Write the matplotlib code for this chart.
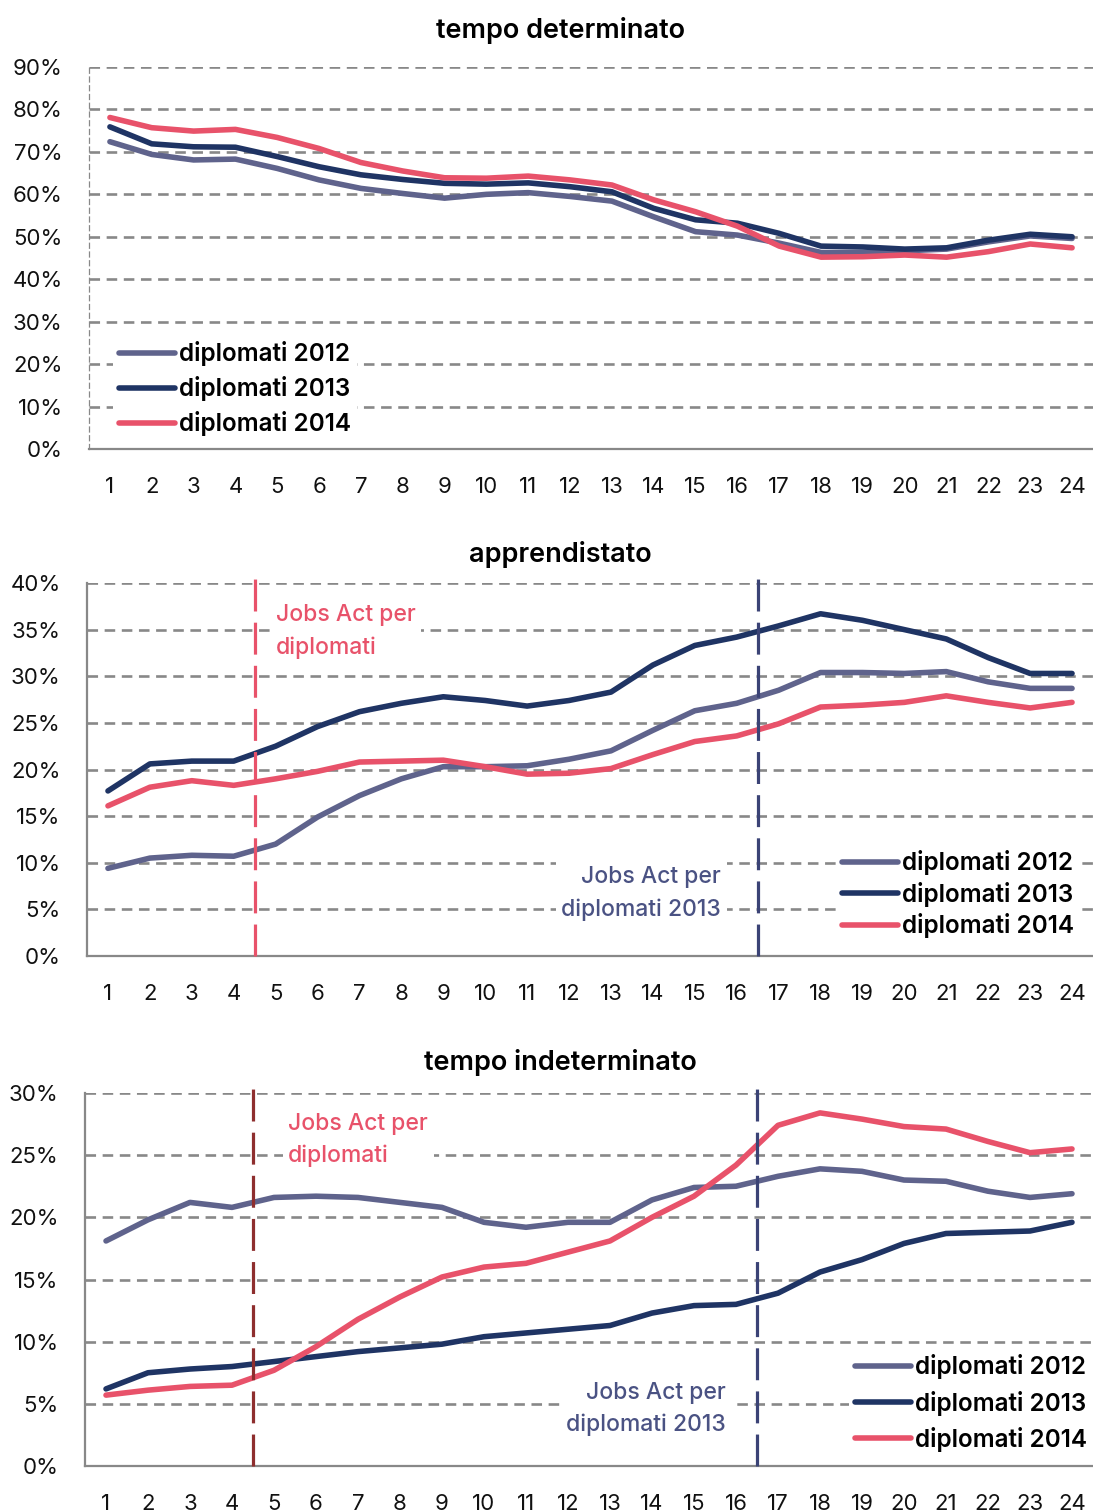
import numpy as np
import matplotlib
matplotlib.use("Agg")
from matplotlib import pyplot as plt
from matplotlib.ticker import FuncFormatter

plt.rcParams['font.family'] = ['Inter', 'DejaVu Sans']

# mesi dal diploma
mesi = list(range(1, 25))
serie = ['diplomati 2012', 'diplomati 2013', 'diplomati 2014']
colori = ['#5F638C', '#1F3464', '#E8526A']

det_2012 = [72.4, 69.4, 68.1, 68.3, 66.1, 63.4, 61.4, 60.2, 59.1, 60.0, 60.4, 59.5,
            58.4, 54.7, 51.2, 50.4, 48.5, 46.3, 46.3, 46.7, 47.1, 48.8, 50.2, 49.6]
det_2013 = [75.9, 71.9, 71.2, 71.1, 68.9, 66.5, 64.6, 63.5, 62.6, 62.4, 62.7, 61.8,
            60.6, 56.7, 54.0, 53.2, 50.8, 47.8, 47.6, 47.1, 47.4, 49.2, 50.6, 50.0]
det_2014 = [78.1, 75.7, 74.9, 75.3, 73.4, 70.8, 67.5, 65.5, 63.9, 63.8, 64.3, 63.4,
            62.2, 58.7, 55.9, 52.5, 47.8, 45.2, 45.3, 45.7, 45.2, 46.5, 48.3, 47.4]

app_2012 = [9.4, 10.5, 10.8, 10.7, 12.0, 14.9, 17.2, 19.0, 20.3, 20.3, 20.4, 21.1,
            22.0, 24.2, 26.3, 27.1, 28.5, 30.4, 30.4, 30.3, 30.5, 29.4, 28.7, 28.7]
app_2013 = [17.7, 20.6, 20.9, 20.9, 22.5, 24.6, 26.2, 27.1, 27.8, 27.4, 26.8, 27.4,
            28.3, 31.2, 33.3, 34.2, 35.4, 36.7, 36.0, 35.0, 34.0, 32.0, 30.3, 30.3]
app_2014 = [16.1, 18.1, 18.8, 18.3, 19.0, 19.8, 20.8, 20.9, 21.0, 20.3, 19.5, 19.6,
            20.1, 21.6, 23.0, 23.6, 24.9, 26.7, 26.9, 27.2, 27.9, 27.2, 26.6, 27.2]

ind_2012 = [18.1, 19.8, 21.2, 20.8, 21.6, 21.7, 21.6, 21.2, 20.8, 19.6, 19.2, 19.6,
            19.6, 21.4, 22.4, 22.5, 23.3, 23.9, 23.7, 23.0, 22.9, 22.1, 21.6, 21.9]
ind_2013 = [6.2, 7.5, 7.8, 8.0, 8.4, 8.8, 9.2, 9.5, 9.8, 10.4, 10.7, 11.0,
            11.3, 12.3, 12.9, 13.0, 13.9, 15.6, 16.6, 17.9, 18.7, 18.8, 18.9, 19.6]
ind_2014 = [5.7, 6.1, 6.4, 6.5, 7.7, 9.6, 11.8, 13.6, 15.2, 16.0, 16.3, 17.2,
            18.1, 20.0, 21.7, 24.2, 27.4, 28.4, 27.9, 27.3, 27.1, 26.1, 25.2, 25.5]

jobs_act = [4.5, 16.5]

W, H = 1093, 1512
fig = plt.figure(figsize=(W / 100, H / 100), dpi=100)


def px_axes(left, top, right, bottom):
    return fig.add_axes([left / W, 1 - bottom / H, (right - left) / W, (bottom - top) / H])


def setup(ax, title, ty, ymax, step, dashed_left=False):
    ax.set_xlim(0.5, 24.5)
    ax.set_ylim(0, ymax)
    ax.set_xticks(mesi)
    ax.set_yticks(np.arange(0, ymax + 0.1, step))
    ax.yaxis.set_major_formatter(FuncFormatter(lambda v, p: f'{v:.0f}%'))
    ax.tick_params(length=0, labelsize=16, colors='#111111')
    ax.tick_params(axis='y', pad=19)
    ax.tick_params(axis='x', pad=20)
    ax.yaxis.grid(True, color='#888888', linestyle=(0, (4.0, 2.5)), linewidth=1.9)
    ax.set_axisbelow(True)
    for s in ['top', 'right']:
        ax.spines[s].set_visible(False)
    ax.spines['bottom'].set_color('#888888')
    ax.spines['bottom'].set_linewidth(1.6)
    ax.spines['left'].set_color('#888888')
    if dashed_left:
        ax.spines['left'].set_linestyle((0, (4, 3)))
        ax.spines['left'].set_linewidth(0.9)
    else:
        ax.spines['left'].set_linewidth(1.6)
    fig.text(560 / W, 1 - ty / H, title, fontsize=19.5, fontweight='semibold',
             ha='center', va='center')


def linee(ax, dati):
    for vals, lab, c in zip(dati, serie, colori):
        ax.plot(mesi, vals, color=c, lw=4, label=lab, solid_capstyle='round', zorder=3)


def legenda(ax, x, y, spacing):
    leg = ax.legend(loc='upper left', bbox_to_anchor=(x / W, 1 - y / H), bbox_transform=fig.transFigure,
                    frameon=True, fancybox=False, edgecolor='none', facecolor='white', framealpha=1,
                    prop={'size': 17.5, 'weight': 'semibold'}, handlelength=2.3, handletextpad=0.15,
                    labelspacing=spacing, borderpad=0.25, borderaxespad=0)
    leg.set_zorder(5)


def verticali(ax, ymax, c1, c2, ext):
    for x, c in zip(jobs_act, [c1, c2]):
        ax.plot([x, x], [0, ymax * ext], color=c, lw=2.3, linestyle=(0, (10, 3.5)),
                clip_on=False, zorder=4)


def nota(ax, x, y, testo, colore, ha):
    ax.text(x, y, testo, color=colore, fontsize=16.5, fontweight='medium',
            ha=ha, va='center', multialignment=ha, linespacing=1.55, zorder=2,
            bbox=dict(facecolor='white', edgecolor='none', pad=4))


# pannello 1
ax1 = px_axes(89, 67, 1093, 449)
setup(ax1, 'tempo determinato', 30, 90, 10, dashed_left=True)
linee(ax1, [det_2012, det_2013, det_2014])
legenda(ax1, 113, 335, 0.42)

# pannello 2
ax2 = px_axes(87, 583, 1093, 956)
setup(ax2, 'apprendistato', 554, 40, 5)
linee(ax2, [app_2012, app_2013, app_2014])
verticali(ax2, 40, '#E8526A', '#3B4376', 1.028)
legenda(ax2, 836, 844, 0.27)
nota(ax2, 5.0, 34.8, 'Jobs Act per\ndiplomati', '#E8526A', 'left')
nota(ax2, 15.63, 6.7, 'Jobs Act per\ndiplomati 2013', '#4A5283', 'right')

# pannello 3
ax3 = px_axes(85, 1093, 1093, 1466)
setup(ax3, 'tempo indeterminato', 1062, 30, 5)
linee(ax3, [ind_2012, ind_2013, ind_2014])
verticali(ax3, 30, '#8E2E2E', '#3B4376', 1.032)
legenda(ax3, 849, 1348, 0.47)
nota(ax3, 5.34, 26.25, 'Jobs Act per\ndiplomati', '#E8526A', 'left')
nota(ax3, 15.75, 4.6, 'Jobs Act per\ndiplomati 2013', '#4A5283', 'right')

fig.savefig('out.png', dpi=100, facecolor='white')
